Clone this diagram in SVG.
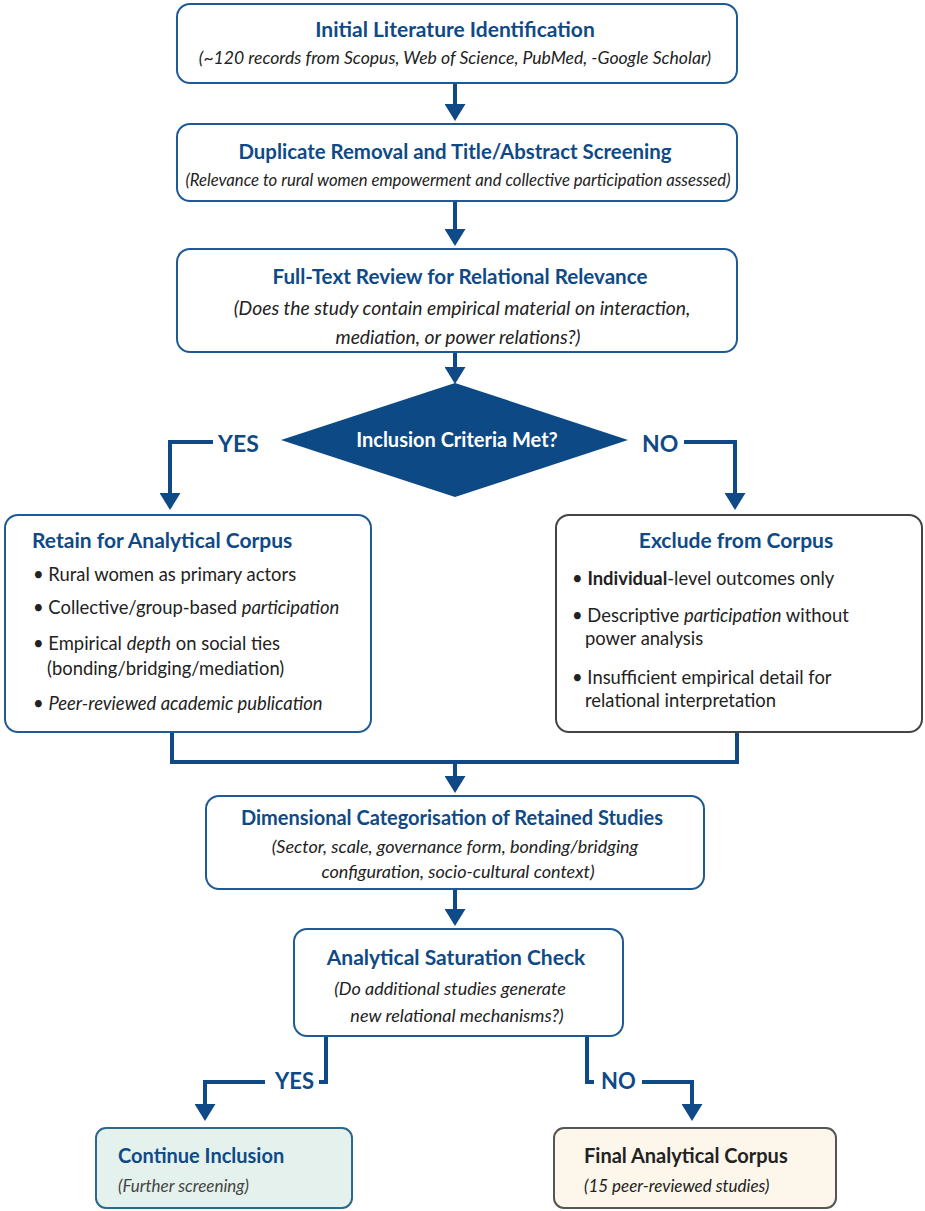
<svg xmlns="http://www.w3.org/2000/svg" width="925" height="1211" viewBox="0 0 925 1211">
<style>
.box{fill:#ffffff;stroke:#1f5a94;stroke-width:2}
.ttl{font-family:Lato,"Open Sans","Liberation Sans",sans-serif;font-weight:bold;fill:#0f4a87;font-size:20px}
.sub{font-family:Lato,"Open Sans","Liberation Sans",sans-serif;font-style:italic;fill:#222;font-size:17px}
.bul{font-family:Lato,"Open Sans","Liberation Sans",sans-serif;fill:#222;font-size:18.4px}
.lbl{font-family:Lato,"Open Sans","Liberation Sans",sans-serif;font-weight:bold;fill:#0f4a87;font-size:23px}
.ln{fill:none;stroke:#0f4a87;stroke-width:4}
.c{text-anchor:middle}
.i{font-style:italic}
</style>
<defs>
<marker id="ah" viewBox="0 0 17 21" markerWidth="17" markerHeight="21" markerUnits="userSpaceOnUse" refX="14" refY="10.5" orient="auto">
<path d="M0,0 L17,10.5 L0,21 Z" fill="#0f4a87"/>
</marker>
</defs>
<g id="connectors">
<path class="ln" d="M455,83 V118" marker-end="url(#ah)"/>
<path class="ln" d="M455,201 V243" marker-end="url(#ah)"/>
<path class="ln" d="M455,352 V381" marker-end="url(#ah)"/>
<path class="ln" d="M213,442 H170 V507" marker-end="url(#ah)"/>
<path class="ln" d="M684,442 H735 V507" marker-end="url(#ah)"/>
<path class="ln" d="M172,732 V762 H737 V732"/>
<path class="ln" d="M455,762 V790" marker-end="url(#ah)"/>
<path class="ln" d="M455,889 V923" marker-end="url(#ah)"/>
<path class="ln" d="M326,1036 V1082 H319"/>
<path class="ln" d="M265,1082 H205 V1118" marker-end="url(#ah)"/>
<path class="ln" d="M587,1036 V1082 H594"/>
<path class="ln" d="M642,1082 H692 V1118" marker-end="url(#ah)"/>
<text class="lbl" x="218" y="452">YES</text>
<text class="lbl" x="642" y="452">NO</text>
<text class="lbl" x="275" y="1089" style="font-size:22px">YES</text>
<text class="lbl" x="601" y="1089" style="font-size:22px">NO</text>
</g>
<g id="n1">
<rect class="box" x="177" y="4" width="560" height="79" rx="13"/>
<text class="ttl c" x="455" y="37" style="font-size:21px">Initial Literature Identification</text>
<text class="sub c" x="455" y="64" style="font-size:17.6px">(~120 records from Scopus, Web of Science, PubMed, -Google Scholar)</text>
</g>
<g id="n2">
<rect class="box" x="177" y="124" width="560" height="77" rx="13"/>
<text class="ttl c" x="455" y="159" style="font-size:20.4px">Duplicate Removal and Title/Abstract Screening</text>
<text class="sub c" x="458" y="186" style="font-size:16.7px">(Relevance to rural women empowerment and collective participation assessed)</text>
</g>
<g id="n3">
<rect class="box" x="177" y="249" width="560" height="103" rx="13"/>
<text class="ttl c" x="460" y="284" style="font-size:20.6px">Full-Text Review for Relational Relevance</text>
<text class="sub c" x="462" y="315" style="font-size:19.3px">(Does the study contain empirical material on interaction,</text>
<text class="sub c" x="458" y="344" style="font-size:19.3px">mediation, or power relations?)</text>
</g>
<g id="decision">
<polygon points="455,383 628,440 455,497 281,440" fill="#0d4a85"/>
<text class="ttl c" x="457" y="447" style="fill:#ffffff;font-size:20px">Inclusion Criteria Met?</text>
</g>
<g id="retain">
<rect class="box" x="5" y="515" width="366" height="217" rx="13"/>
<text class="ttl" x="32" y="548" style="font-size:21px">Retain for Analytical Corpus</text>
<text class="bul" x="33" y="581">• Rural women as primary actors</text>
<text class="bul" x="33" y="614">• Collective/group-based <tspan class="i">participation</tspan></text>
<text class="bul" x="33" y="650">• Empirical <tspan class="i">depth</tspan> on social ties</text>
<text class="bul" x="47" y="675">(bonding/bridging/mediation)</text>
<text class="bul" x="33" y="710">• <tspan class="i">Peer-reviewed academic publication</tspan></text>
</g>
<g id="exclude">
<rect x="556" y="515" width="366" height="217" rx="13" fill="#ffffff" stroke="#444" stroke-width="2"/>
<text class="ttl c" x="736" y="548" style="font-size:21px">Exclude from Corpus</text>
<text class="bul" x="572" y="585">• <tspan font-weight="bold">Individual</tspan>-level outcomes only</text>
<text class="bul" x="572" y="622">• Descriptive <tspan class="i">participation</tspan> without</text>
<text class="bul" x="585" y="645">power analysis</text>
<text class="bul" x="572" y="684">• Insufficient empirical detail for</text>
<text class="bul" x="585" y="707">relational interpretation</text>
</g>
<g id="n4">
<rect class="box" x="206" y="796" width="498" height="93" rx="13"/>
<text class="ttl c" x="452" y="825">Dimensional Categorisation of Retained Studies</text>
<text class="sub c" x="455" y="853" style="font-size:18px">(Sector, scale, governance form, bonding/bridging</text>
<text class="sub c" x="458" y="878" style="font-size:18px">configuration, socio-cultural context)</text>
</g>
<g id="n5">
<rect class="box" x="294" y="929" width="329" height="107" rx="13"/>
<text class="ttl c" x="456" y="965" style="font-size:21px">Analytical Saturation Check</text>
<text class="sub c" x="450" y="995" style="font-size:18px">(Do additional studies generate</text>
<text class="sub c" x="457" y="1022" style="font-size:18px">new relational mechanisms?)</text>
</g>
<g id="continue">
<rect x="96" y="1128" width="256" height="80" rx="10" fill="#e4f1ec" stroke="#2b6a8c" stroke-width="2"/>
<text class="ttl" x="118" y="1163">Continue Inclusion</text>
<text class="sub" x="118" y="1192" style="fill:#444">(Further screening)</text>
</g>
<g id="final">
<rect x="554" y="1128" width="282" height="80" rx="10" fill="#fdf6ea" stroke="#555" stroke-width="2"/>
<text class="ttl" x="584" y="1163" style="fill:#222">Final Analytical Corpus</text>
<text class="sub" x="584" y="1192">(15 peer-reviewed studies)</text>
</g>
</svg>
